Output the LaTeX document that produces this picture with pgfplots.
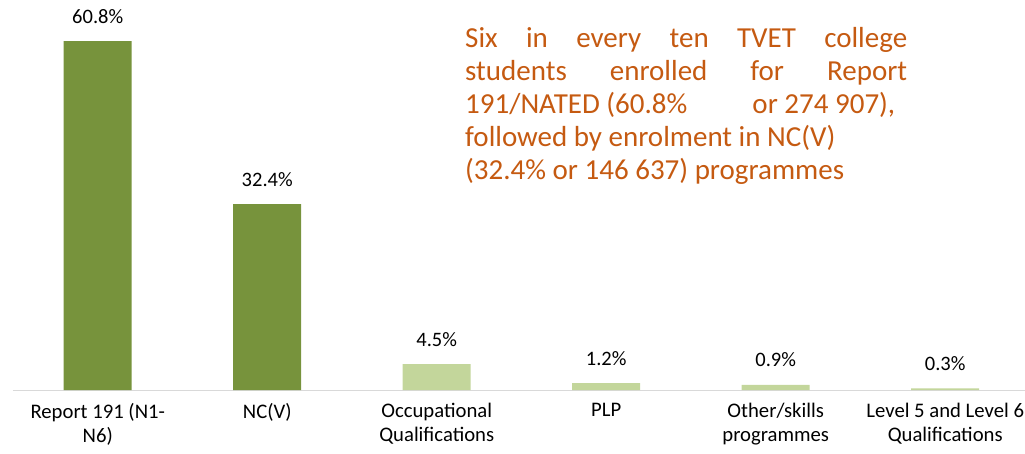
\documentclass[border=0pt]{standalone}
\usepackage{pgfplots}
\pgfplotsset{compat=1.18}
\usepackage{fontspec}
\setmainfont{Carlito}
\definecolor{darkg}{HTML}{77933C}
\definecolor{lightg}{HTML}{C3D69B}
\definecolor{orangetxt}{HTML}{C55A11}
\definecolor{axisgray}{HTML}{D9D9D9}
\begin{document}
\begin{tikzpicture}[x=1pt,y=1pt]
\path[use as bounding box] (0,0) rectangle (1025,453);
\begin{axis}[
  at={(13pt,63pt)}, anchor=south west,
  scale only axis, width=1017pt, height=401.8pt,
  xmin=-0.5, xmax=5.5, ymin=0, ymax=70,
  ybar, bar width=68pt, bar shift=0pt,
  axis x line*=bottom, axis y line=none,
  x axis line style={draw=axisgray, line width=1pt},
  xtick={0,1,2,3,4,5},
  xticklabels={{Report 191 (N1-\\N6)},{NC(V)},{Occupational\\Qualifications},{PLP},{Other/skills\\programmes},{Level 5 and Level 6\\Qualifications}},
  major tick length=0pt,
  xticklabel style={align=center, font=\fontsize{20.7}{24}\selectfont, text=black, yshift=-10pt},
  /pgf/number format/assume math mode=true,
  nodes near coords={\pgfmathprintnumber[fixed,precision=1,fixed zerofill]{\pgfplotspointmeta}\%},
  every node near coord/.append style={font=\fontsize{20.5}{24}\selectfont, text=black, anchor=base, yshift=18pt, inner sep=0pt},
  clip=false,
]
\addplot[fill=darkg, draw=none] coordinates {(0,60.8) (1,32.4)};
\addplot[fill=lightg, draw=none] coordinates {(2,4.5) (3,1.2) (4,0.9) (5,0.3)};
\end{axis}
\node[anchor=north west, inner sep=0pt, align=left, text=orangetxt, font=\fontsize{29}{33}\selectfont] at (465,426) {%
\makebox[442pt][s]{Six in every ten TVET college}\\
\makebox[442pt][s]{students enrolled for Report}\\
\makebox[430pt][s]{191/NATED (60.8\%\hfill or 274 907),}\\
followed by enrolment in NC(V)\\
(32.4\% or 146 637) programmes};
\end{tikzpicture}
\end{document}
